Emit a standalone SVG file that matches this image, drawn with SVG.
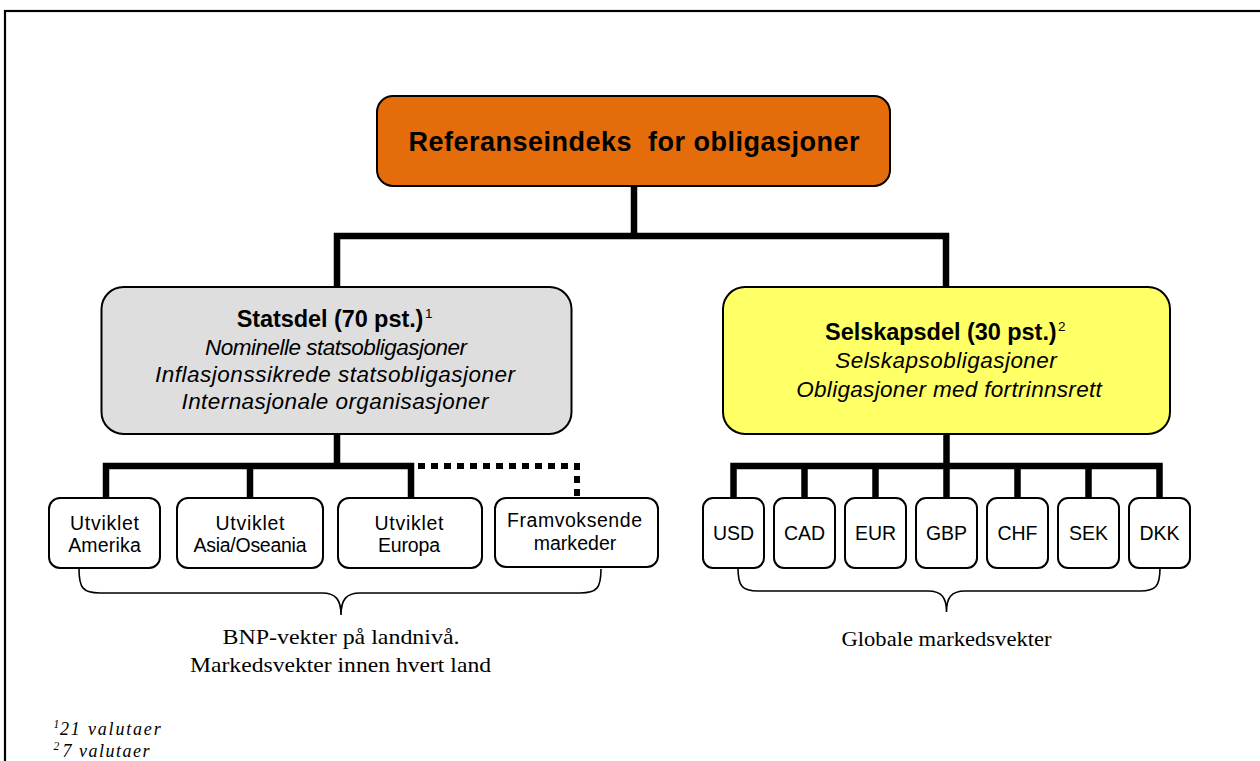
<svg xmlns="http://www.w3.org/2000/svg" width="1260" height="761" viewBox="0 0 1260 761">
<style>
.box{stroke:#000;stroke-width:2}
.leaf{fill:#fff;stroke:#000;stroke-width:2}
.conn{fill:none;stroke:#000;stroke-width:6.5;stroke-linecap:square}
.dot{fill:none;stroke:#000;stroke-width:6;stroke-dasharray:7 6}
.brace{fill:none;stroke:#000;stroke-width:1.6}
.sans{font-family:"Liberation Sans",Arial,sans-serif;fill:#000}
.serif{font-family:"Liberation Serif","Times New Roman",serif;fill:#000}
.b{font-weight:bold}
.i{font-style:italic}
.lt{font-size:19.5px;text-anchor:middle}
</style>
<rect x="5" y="11" width="1300" height="800" fill="#fff" stroke="#000" stroke-width="2.2"/>

<g id="connectors">
<path class="conn" d="M634 186 V236 M337 236 H946 M337 236 V287 M946 236 V287"/>
<path class="conn" d="M337 434 V466 M106 466 H411 M106 466 V498 M250 466 V498 M411 466 V498"/>
<path class="dot" d="M418 466 H577 V498"/>
<path class="conn" d="M946.5 434 V466 M733.5 466 H1159.5 M733.5 466 V498 M804.5 466 V498 M875.5 466 V498 M946.5 466 V498 M1017.5 466 V498 M1088.5 466 V498 M1159.5 466 V498"/>
<path class="brace" d="M79 569 C79 588 83 593 100 593 L322 593 C336 593 341 600 341 615 C341 600 346 593 360 593 L580 593 C597 593 601 588 601 569"/>
<path class="brace" d="M738 568 C738 586 742 591 758 591 L928 591 C942 591 946.5 598 946.5 612 C946.5 598 951 591 965 591 L1140 591 C1156 591 1160 586 1160 568"/>
</g>

<g id="n-root">
<rect class="box" x="377" y="96" width="513" height="90" rx="16" fill="#E46C0A"/>
<text class="sans b" x="634" y="151" font-size="27" text-anchor="middle" xml:space="preserve" textLength="451" lengthAdjust="spacing">Referanseindeks  for obligasjoner</text>
</g>

<g id="n-stat">
<rect class="box" x="101.5" y="287" width="470" height="147" rx="22" fill="#DEDEDE"/>
<text class="sans b" x="236.7" y="326.7" font-size="23.5" textLength="186.7" lengthAdjust="spacing">Statsdel (70 pst.)</text>
<text class="sans" x="425" y="317.5" font-size="13.5">1</text>
<text class="sans i" x="336" y="355" font-size="22.5" text-anchor="middle" textLength="262" lengthAdjust="spacing">Nominelle statsobligasjoner</text>
<text class="sans i" x="335" y="381.7" font-size="22.5" text-anchor="middle" textLength="360" lengthAdjust="spacing">Inflasjonssikrede statsobligasjoner</text>
<text class="sans i" x="335" y="409.3" font-size="22.5" text-anchor="middle" textLength="307" lengthAdjust="spacing">Internasjonale organisasjoner</text>
</g>

<g id="n-selsk">
<rect class="box" x="723" y="287" width="447" height="147" rx="22" fill="#FFFF66"/>
<text class="sans b" x="825" y="340" font-size="23.5" textLength="231.7" lengthAdjust="spacing">Selskapsdel (30 pst.)</text>
<text class="sans" x="1058" y="331" font-size="13.5">2</text>
<text class="sans i" x="946" y="368.3" font-size="22.5" text-anchor="middle" textLength="221.7" lengthAdjust="spacing">Selskapsobligasjoner</text>
<text class="sans i" x="949" y="396.7" font-size="22.5" text-anchor="middle" textLength="305.7" lengthAdjust="spacing">Obligasjoner med fortrinnsrett</text>
</g>

<g id="n-amerika">
<rect class="leaf" x="49" y="498" width="111" height="70" rx="11"/>
<text class="sans lt" x="104.5" y="530" textLength="69" lengthAdjust="spacing">Utviklet</text>
<text class="sans lt" x="104.5" y="551.7" textLength="72.7" lengthAdjust="spacing">Amerika</text>
</g>
<g id="n-asia">
<rect class="leaf" x="177" y="498" width="146" height="70" rx="11"/>
<text class="sans lt" x="250" y="530" textLength="69" lengthAdjust="spacing">Utviklet</text>
<text class="sans lt" x="250" y="551.7" textLength="113" lengthAdjust="spacing">Asia/Oseania</text>
</g>
<g id="n-europa">
<rect class="leaf" x="338" y="498" width="144" height="70" rx="11"/>
<text class="sans lt" x="409" y="530" textLength="69" lengthAdjust="spacing">Utviklet</text>
<text class="sans lt" x="409" y="551.7" textLength="62" lengthAdjust="spacing">Europa</text>
</g>
<g id="n-framv">
<rect class="leaf" x="495" y="498" width="163" height="69" rx="11"/>
<text class="sans lt" x="574.5" y="527" textLength="135" lengthAdjust="spacing">Framvoksende</text>
<text class="sans lt" x="575" y="550" textLength="82.7" lengthAdjust="spacing">markeder</text>
</g>

<g id="n-usd"><rect class="leaf" x="703" y="498" width="61" height="70" rx="10"/><text class="sans lt" x="733.5" y="540">USD</text></g>
<g id="n-cad"><rect class="leaf" x="774" y="498" width="61" height="70" rx="10"/><text class="sans lt" x="804.5" y="540">CAD</text></g>
<g id="n-eur"><rect class="leaf" x="845" y="498" width="61" height="70" rx="10"/><text class="sans lt" x="875.5" y="540">EUR</text></g>
<g id="n-gbp"><rect class="leaf" x="916" y="498" width="61" height="70" rx="10"/><text class="sans lt" x="946.5" y="540">GBP</text></g>
<g id="n-chf"><rect class="leaf" x="987" y="498" width="61" height="70" rx="10"/><text class="sans lt" x="1017.5" y="540">CHF</text></g>
<g id="n-sek"><rect class="leaf" x="1058" y="498" width="61" height="70" rx="10"/><text class="sans lt" x="1088.5" y="540">SEK</text></g>
<g id="n-dkk"><rect class="leaf" x="1129" y="498" width="61" height="70" rx="10"/><text class="sans lt" x="1159.5" y="540">DKK</text></g>

<g id="labels">
<text class="serif" x="341" y="644" font-size="22" text-anchor="middle" textLength="237" lengthAdjust="spacingAndGlyphs">BNP-vekter på landnivå.</text>
<text class="serif" x="340.5" y="671.7" font-size="22" text-anchor="middle" textLength="301" lengthAdjust="spacingAndGlyphs">Markedsvekter innen hvert land</text>
<text class="serif" x="946.5" y="646" font-size="22" text-anchor="middle" textLength="210" lengthAdjust="spacingAndGlyphs">Globale markedsvekter</text>
<text class="serif i" x="53.5" y="728" font-size="11.5">1</text>
<text class="serif i" x="60" y="735" font-size="18" textLength="100.7" lengthAdjust="spacing">21 valutaer</text>
<text class="serif i" x="53.5" y="750" font-size="11.5">2</text>
<text class="serif i" x="62.5" y="757" font-size="18" textLength="87" lengthAdjust="spacing">7 valutaer</text>
</g>
</svg>
